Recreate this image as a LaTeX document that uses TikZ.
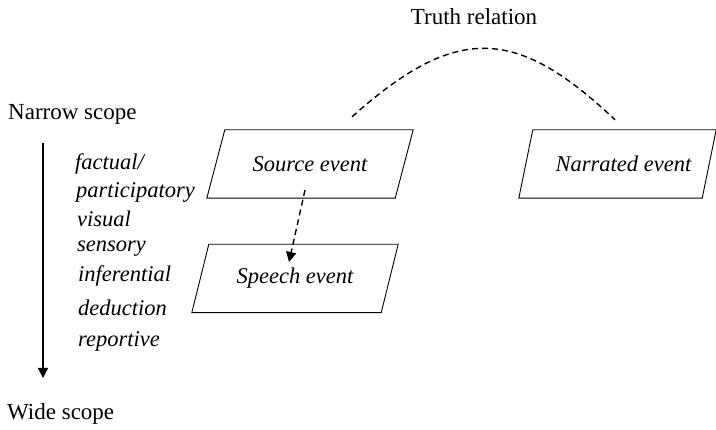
\documentclass[tikz,border=0pt]{standalone}
\usepackage{fontspec}
\setmainfont{Liberation Serif}
\usepackage{tikz}
\usetikzlibrary{arrows.meta,positioning,calc}

\begin{document}
\begin{tikzpicture}[x=1pt,y=1pt]

\tikzstyle{event}=[rectangle,minimum width=206pt,minimum height=68pt,inner sep=0pt,
  font=\fontsize{22.5}{26}\selectfont\itshape]
\tikzstyle{scope}=[anchor=base west,inner sep=0pt,font=\fontsize{23}{27}\selectfont]
\tikzstyle{kind}=[anchor=base west,inner sep=0pt,font=\fontsize{22.5}{26}\selectfont\itshape]

\useasboundingbox (0,0) rectangle (716,430);

%events
\node[event]                       (src) at (310,266)   {Source event};
\node[event]                       (spe) at (295,151.5) {Speech event};
\node[event,minimum width=197pt]   (nar) at (617.5,266) {\hspace*{12pt}Narrated event};

%slanted outlines
\foreach \n/\s in {src/18,spe/17,nar/14}
  \draw[line width=0.9pt] (\n.south west) -- ($(\n.north west)+(\s,0)$)
    -- (\n.north east) -- ($(\n.south east)+(-\s,0)$) -- cycle;

\node[anchor=base,inner sep=0pt,font=\fontsize{23}{27}\selectfont] (tr) at (474,405) {Truth relation};

%scope axis
\node[scope] (narrow) at (8,310) {Narrow scope};
\node[scope] (wide)   at (7,10)  {Wide scope};
\coordinate (top) at (43,287);
\coordinate (bot) at (43,52);

%evidential kinds
\node[kind] (k1) at (75,260) {factual/};
\node[kind] (k2) at (76,232) {participatory};
\node[kind] (k3) at (77,203) {visual};
\node[kind] (k4) at (77,178) {sensory};
\node[kind] (k5) at (78,148) {inferential};
\node[kind] (k6) at (78,114) {deduction};
\node[kind] (k7) at (78,83)  {reportive};

%connectors
\draw[line width=1.4pt,-{Triangle[length=10pt,width=10pt]}] (top) -- (bot);
\draw[line width=1.4pt,dash pattern=on 6pt off 4pt,-{Triangle[length=10pt,width=10pt]}]
  ($(src.center)+(-5,-26)$) -- ($(spe.center)+(-6,16.5)$);
\draw[line width=1.4pt,dash pattern=on 6pt off 4pt]
  ($(src.north)+(42,13)$) .. controls (455,405) and (515,405) .. ($(nar.north)+(-2.5,10)$);

\end{tikzpicture}
\end{document}
